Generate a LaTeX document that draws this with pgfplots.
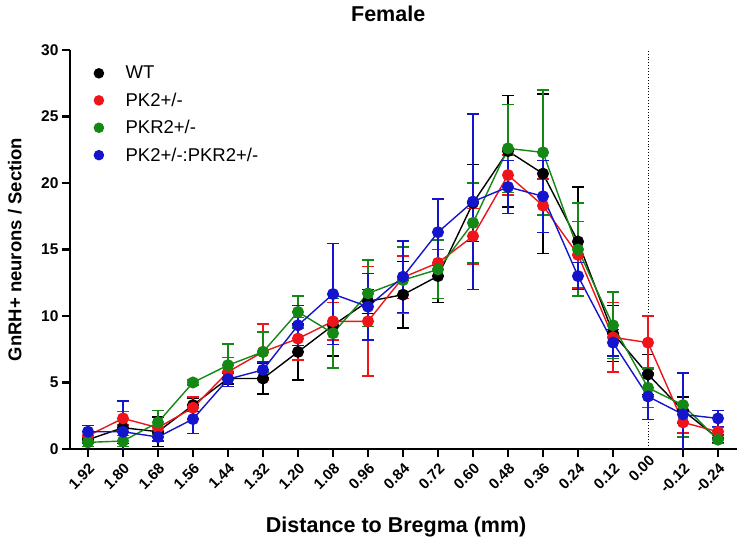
\documentclass[border=0pt]{standalone}
\usepackage{fontspec}
\setmainfont{Liberation Sans}
\usepackage{pgfplots}
\pgfplotsset{compat=1.18}

\definecolor{wtblack}{RGB}{0,0,0}
\definecolor{pkred}{RGB}{238,20,25}
\definecolor{pkrgreen}{RGB}{20,135,20}
\definecolor{dblblue}{RGB}{20,20,205}

\pgfplotsset{
  series/.style={color=#1, line width=1.4pt, mark=*, mark size=5.3pt, mark options={solid},
    error bars/.cd, y dir=both, y explicit,
    error bar style={line width=1.4pt, color=#1},
    error mark options={rotate=90, mark size=6pt, line width=1.4pt, color=#1}},
}

\begin{document}
\begin{tikzpicture}
\begin{axis}[
  name=ax,
  scale only axis, width=667pt, height=399pt,
  xmin=-0.514, xmax=18.543, ymin=0, ymax=30,
  axis lines=left,
  axis line style={line width=2.8pt, -},
  ytick={0,5,...,30},
  xtick={0,...,15,17,18},
  xticklabels={1.92,1.80,1.68,1.56,1.44,1.32,1.20,1.08,0.96,0.84,0.72,0.60,0.48,0.36,0.24,0.12,-0.12,-0.24},
  extra x ticks={16}, extra x tick labels={0.00},
  extra x tick style={major tick length=0pt},
  tick align=outside, major tick length=8pt,
  tick style={line width=2.4pt, black},
  xticklabel style={rotate=45, anchor=north east, font=\bfseries\fontsize{15}{18}\selectfont},
  yticklabel style={font=\bfseries\fontsize{15.5}{18}\selectfont},
  /pgf/number format/assume math mode=true,
  title={Female},
  every axis title shift=0pt,
  title style={font=\bfseries\fontsize{21.5}{25}\selectfont, at={(axis description cs:0.477,1)}, anchor=south, yshift=25pt},
  xlabel={Distance to Bregma (mm)},
  xlabel style={font=\bfseries\fontsize{21.5}{25}\selectfont, at={(axis description cs:0.489,0)}, anchor=center, yshift=-78pt},
  ylabel={GnRH+ neurons / Section},
  ylabel style={font=\bfseries\fontsize{18.5}{22}\selectfont, at={(axis description cs:-0.0825,0.5)}, anchor=center},
  legend style={at={(axis description cs:0,1)}, anchor=north west, xshift=22pt, yshift=-14pt,
    draw=none, fill=none, inner sep=0pt, font=\fontsize{18.5}{22}\selectfont, row sep=8.5pt},
  legend cell align=left,
  legend image code/.code={\path (-6pt,-6pt) (24pt,6pt); \fill[#1, draw=none] (0pt,0pt) circle (5.3pt);},
]
\addplot[black, line width=0.9pt, dotted, forget plot] coordinates {(16,0) (16,30)};

% WT
\addplot[series=wtblack] coordinates {
  (0,0.7) +- (0,0.3)   (1,1.6) +- (0,1.2)   (2,1.3) +- (0,1.1)   (3,3.3) +- (0,0.5)
  (4,5.3) +- (0,0.4)   (5,5.3) +- (0,1.15)  (6,7.3) +- (0,2.1)   (7,9.3) +- (0,2.3)
  (8,11.1) +- (0,0.9)  (9,11.6) +- (0,2.5)  (10,13.0) +- (0,2.0) (11,18.5) +- (0,2.9)
  (12,22.4) +- (0,4.2) (13,20.7) +- (0,6.0) (14,15.6) +- (0,4.1) (15,8.7) +- (0,2.1)
  (16,5.6) +- (0,1.5)  (17,2.9) +- (0,1.0)  (18,0.8) +- (0,0.3)
};
% PK2+/-
\addplot[series=pkred] coordinates {
  (0,1.0) +- (0,0.3)   (1,2.3) +- (0,0.5)   (2,1.6) +- (0,0.4)   (3,3.1) +- (0,0.8)
  (4,5.8) +- (0,1.1)   (5,7.3) +- (0,2.1)   (6,8.3) +- (0,1.6)   (7,9.6) +- (0,1.4)
  (8,9.6) +- (0,4.1)   (9,12.9) +- (0,1.6)  (10,14.0) +- (0,1.0) (11,16.0) +- (0,2.1)
  (12,20.6) +- (0,1.5) (13,18.3) +- (0,2.0) (14,14.6) +- (0,2.5) (15,8.4) +- (0,2.6)
  (16,8.0) +- (0,2.0)  (17,2.0) +- (0,0.8)  (18,1.3) +- (0,0.3)
};
% PKR2+/-
\addplot[series=pkrgreen] coordinates {
  (0,0.5) +- (0,0.3)   (1,0.6) +- (0,0.4)   (2,2.0) +- (0,0.9)   (3,5.0) +- (0,0.2)
  (4,6.3) +- (0,1.6)   (5,7.3) +- (0,1.5)   (6,10.3) +- (0,1.2)  (7,8.7) +- (0,2.6)
  (8,11.7) +- (0,2.5)  (9,12.7) +- (0,2.5)  (10,13.5) +- (0,2.2) (11,17.0) +- (0,3.0)
  (12,22.6) +- (0,3.3) (13,22.3) +- (0,4.7) (14,15.0) +- (0,3.5) (15,9.3) +- (0,2.5)
  (16,4.6) +- (0,1.5)  (17,3.3) +- (0,2.4)  (18,0.7) +- (0,0.3)
};
% PK2+/-:PKR2+/-
\addplot[series=dblblue] coordinates {
  (0,1.3) +- (0,0.45)  (1,1.3) +- (0,2.3)   (2,0.9) +- (0,0.3)   (3,2.25) +- (0,1.1)
  (4,5.25) +- (0,0.55) (5,5.95) +- (0,0.6)  (6,9.3) +- (0,1.5)   (7,11.65) +- (0,3.8)
  (8,10.7) +- (0,2.5)  (9,12.95) +- (0,2.7) (10,16.3) +- (0,2.5) (11,18.6) +- (0,6.6)
  (12,19.7) +- (0,2.0) (13,19.0) +- (0,2.7) (14,13.0) +- (0,1.0) (15,8.0) +- (0,1.0)
  (16,3.95) +- (0,1.75) (17,2.6) +- (0,3.1) (18,2.3) +- (0,0.6)
};
\legend{WT, PK2+/-, PKR2+/-, PK2+/-:PKR2+/-}
\end{axis}
\path ([xshift=-70pt,yshift=-95pt]ax.south west) rectangle ([xshift=6pt,yshift=50pt]ax.north east);
\end{tikzpicture}
\end{document}
